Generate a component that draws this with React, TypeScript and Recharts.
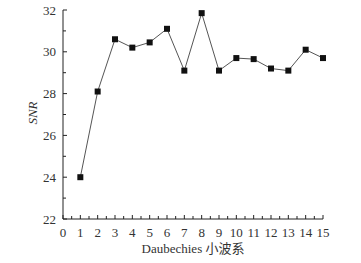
import React from 'react';
import { LineChart, Line, XAxis, YAxis } from 'recharts';

const waveletOrders = [1, 2, 3, 4, 5, 6, 7, 8, 9, 10, 11, 12, 13, 14, 15];
const snrValues = [24.0, 28.1, 30.6, 30.2, 30.45, 31.1, 29.1, 31.85, 29.1, 29.7, 29.65, 29.2, 29.1, 30.1, 29.7];
const xTicks = [0, 0.5, 1, 1.5, 2, 2.5, 3, 3.5, 4, 4.5, 5, 5.5, 6, 6.5, 7, 7.5, 8, 8.5, 9, 9.5, 10, 10.5, 11, 11.5, 12, 12.5, 13, 13.5, 14, 14.5, 15];
const yTicks = [22, 23, 24, 25, 26, 27, 28, 29, 30, 31, 32];

const data = waveletOrders.map((n, i) => ({ n, snr: snrValues[i] }));

const FONT = "'Liberation Serif', 'Noto Sans CJK SC', serif";
const INK = '#222';
const textStyle = { fontFamily: FONT, fontSize: 13, fill: '#333' };

// ticks point inward, so draw them ourselves
function XTick({ x, y, payload }: any) {
  const major = Number.isInteger(payload.value);
  return (
    <g>
      <line x1={x} y1={y} x2={x} y2={y - (major ? 4 : 3)} stroke={INK} strokeWidth={1} />
      {major && (
        <text x={x} y={y + 18} textAnchor="middle" style={textStyle}>
          {payload.value}
        </text>
      )}
    </g>
  );
}

function YTick({ x, y, payload }: any) {
  const major = payload.value % 2 === 0;
  return (
    <g>
      <line x1={x} y1={y} x2={x + (major ? 4 : 3)} y2={y} stroke={INK} strokeWidth={1} />
      {major && (
        <text x={x - 7} y={y + 4.5} textAnchor="end" style={textStyle}>
          {payload.value}
        </text>
      )}
    </g>
  );
}

function SquareDot({ cx, cy, index }: any) {
  if (cx == null || cy == null) return <g key={index} />;
  return <rect key={index} x={cx - 3} y={cy - 3} width={6} height={6} fill="#111" />;
}

export default function App() {
  return (
    <div style={{ position: 'absolute', left: 0, top: 0, background: '#fff' }}>
      <LineChart width={361} height={263} data={data} margin={{ top: 10, right: 38, bottom: 0, left: 0 }}>
        <XAxis
          dataKey="n"
          type="number"
          domain={[0, 15]}
          ticks={xTicks}
          interval={0}
          height={44}
          tickSize={0}
          tickMargin={0}
          tickLine={false}
          axisLine={{ stroke: INK, strokeWidth: 1 }}
          tick={<XTick />}
          label={{
            content: ({ viewBox }: any) => (
              <text
                x={viewBox.x + viewBox.width / 2}
                y={253}
                textAnchor="middle"
                style={textStyle}
              >
                Daubechies 小波系
              </text>
            ),
          }}
        />
        <YAxis
          type="number"
          domain={[22, 32]}
          ticks={yTicks}
          interval={0}
          width={63}
          tickSize={0}
          tickMargin={0}
          tickLine={false}
          axisLine={{ stroke: INK, strokeWidth: 1 }}
          tick={<YTick />}
          label={{
            content: () => (
              <text
                x={37}
                y={113}
                transform="rotate(-90 37 113)"
                textAnchor="middle"
                style={{ ...textStyle, fontStyle: 'italic' }}
              >
                SNR
              </text>
            ),
          }}
        />
        <Line
          dataKey="snr"
          type="linear"
          stroke="#555"
          strokeWidth={1}
          dot={<SquareDot />}
          activeDot={false}
          isAnimationActive={false}
        />
      </LineChart>
    </div>
  );
}
